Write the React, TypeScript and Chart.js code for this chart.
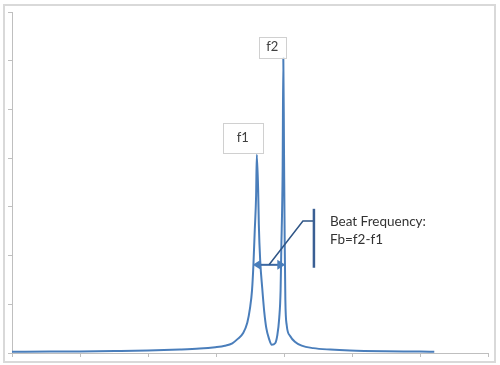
import React, { useEffect, useRef } from "react";
import { Chart, registerables } from "chart.js";

Chart.register(...registerables);

// Frequency (x) and amplitude (y)
const freqX = [0, 0.56, 1.0, 1.51, 2.0, 2.47, 2.76, 2.99, 3.13, 3.24, 3.32, 3.4, 3.46, 3.5, 3.53, 3.55, 3.57, 3.59, 3.6, 3.62, 3.63, 3.65, 3.68, 3.71, 3.74, 3.78, 3.82, 3.87, 3.9, 3.93, 3.95, 3.96, 3.98, 3.99, 4.0, 4.01, 4.02, 4.04, 4.09, 4.16, 4.26, 4.43, 4.68, 4.97, 5.49, 6.0, 6.21];
const amplitudeY = [0.025, 0.03, 0.033, 0.04, 0.05, 0.07, 0.09, 0.12, 0.15, 0.2, 0.29, 0.41, 0.62, 0.92, 1.29, 1.8, 2.52, 3.24, 4.07, 3.35, 2.63, 1.9, 1.33, 0.84, 0.51, 0.29, 0.17, 0.2, 0.35, 0.72, 1.29, 2.11, 3.76, 6.06, 4.17, 2.32, 1.09, 0.57, 0.35, 0.23, 0.15, 0.1, 0.07, 0.05, 0.035, 0.03, 0.025];

const axisMin = 0;
const axisMax = 7;
const peakLabels = ["f1", "f2"];
const beatLabel = ["Beat Frequency:", "Fb=f2-f1"];
const arrowY = 1.81;
const calloutX = 4.44;
const calloutTop = 2.96;
const calloutBottom = 1.75;
const calloutElbowY = 2.71;

const FONT = "Lato, 'Open Sans', sans-serif";

export default function App() {
  const ref = useRef<HTMLCanvasElement>(null);
  useEffect(() => {
    if (!ref.current) return;
    const points = freqX.map((x, i) => ({ x, y: amplitudeY[i] }));
    // find peaks
    const split = 3.8;
    let i1 = 0, i2 = 0;
    freqX.forEach((x, i) => {
      if (x < split && amplitudeY[i] > amplitudeY[i1]) i1 = i;
      if (x >= split && amplitudeY[i] > amplitudeY[i2]) i2 = i;
    });
    if (freqX[i2] < split) {
      i2 = freqX.findIndex((x) => x >= split);
      freqX.forEach((x, i) => { if (x >= split && amplitudeY[i] > amplitudeY[i2]) i2 = i; });
    }

    const overlay = {
      id: "overlay",
      afterDraw(chart: any) {
        const ctx = chart.ctx as CanvasRenderingContext2D;
        const xs = chart.scales.x;
        const ys = chart.scales.y;
        ctx.save();
        // outer frame
        ctx.strokeStyle = "#d9d9d9";
        ctx.lineWidth = 2;
        ctx.strokeRect(4, 5, 491, 357);

        // peak label boxes
        const drawBox = (cx: number, bottom: number, w: number, h: number, text: string) => {
          ctx.fillStyle = "#ffffff";
          ctx.fillRect(cx - w / 2, bottom - h, w, h);
          ctx.strokeStyle = "#d0d0d0";
          ctx.lineWidth = 1;
          ctx.strokeRect(Math.round(cx - w / 2) + 0.5, Math.round(bottom - h) + 0.5, w, h);
          ctx.fillStyle = "#404040";
          ctx.font = `13px ${FONT}`;
          ctx.textAlign = "center";
          ctx.textBaseline = "middle";
          ctx.fillText(text, cx, bottom - h / 2);
        };
        const p1x = xs.getPixelForValue(freqX[i1]);
        const p1y = ys.getPixelForValue(amplitudeY[i1]);
        const p2x = xs.getPixelForValue(freqX[i2]);
        const p2y = ys.getPixelForValue(amplitudeY[i2]);
        drawBox(p1x - 14, p1y - 2, 40, 30, peakLabels[0]);
        drawBox(p2x - 11, p2y, 27, 21, peakLabels[1]);

        // double arrow
        const ay = ys.getPixelForValue(arrowY);
        const ax1 = p1x - 4;
        const ax2 = p2x + 2;
        ctx.strokeStyle = "#3b68a3";
        ctx.lineWidth = 2;
        ctx.beginPath();
        ctx.moveTo(ax1 + 6, ay);
        ctx.lineTo(ax2 - 6, ay);
        ctx.stroke();
        ctx.fillStyle = "#4a7ebb";
        ctx.beginPath();
        ctx.moveTo(ax1, ay);
        ctx.lineTo(ax1 + 8, ay - 5);
        ctx.lineTo(ax1 + 8, ay + 5);
        ctx.closePath();
        ctx.fill();
        ctx.beginPath();
        ctx.moveTo(ax2, ay);
        ctx.lineTo(ax2 - 8, ay - 5);
        ctx.lineTo(ax2 - 8, ay + 5);
        ctx.closePath();
        ctx.fill();

        // callout connector
        const cx = xs.getPixelForValue(calloutX);
        const ey = ys.getPixelForValue(calloutElbowY);
        ctx.strokeStyle = "#2f5586";
        ctx.lineWidth = 1.5;
        ctx.beginPath();
        ctx.moveTo((ax1 + ax2) / 2, ay);
        ctx.lineTo(cx - 11, ey);
        ctx.lineTo(cx, ey);
        ctx.stroke();
        ctx.lineWidth = 2.5;
        ctx.strokeStyle = "#3a5f94";
        ctx.beginPath();
        ctx.moveTo(cx, ys.getPixelForValue(calloutTop));
        ctx.lineTo(cx, ys.getPixelForValue(calloutBottom));
        ctx.stroke();

        // callout text
        ctx.fillStyle = "#333333";
        ctx.font = `13.5px ${FONT}`;
        ctx.textAlign = "left";
        ctx.textBaseline = "middle";
        ctx.fillText(beatLabel[0], cx + 16, ey + 1);
        ctx.fillText(beatLabel[1], cx + 16, ey + 19);
        ctx.restore();
      },
    };

    const chart = new Chart(ref.current, {
      type: "scatter",
      data: {
        datasets: [
          {
            data: points,
            showLine: true,
            borderColor: "#4a7ebb",
            borderWidth: 2,
            pointRadius: 0,
            cubicInterpolationMode: "monotone",
          } as any,
        ],
      },
      options: {
        responsive: false,
        animation: false,
        events: [],
        layout: { padding: { left: 8, right: 12, top: 12, bottom: 8 } },
        plugins: { legend: { display: false }, tooltip: { enabled: false } },
        scales: {
          x: {
            type: "linear",
            min: axisMin,
            max: axisMax,
            ticks: { display: false, stepSize: 1 },
            grid: { drawOnChartArea: false, drawTicks: true, tickLength: 4, color: "#bfbfbf" },
            border: { display: true, color: "#bfbfbf", width: 1 },
          },
          y: {
            type: "linear",
            min: axisMin,
            max: axisMax,
            ticks: { display: false, stepSize: 1 },
            grid: { drawOnChartArea: false, drawTicks: true, tickLength: 4, color: "#bfbfbf" },
            border: { display: true, color: "#bfbfbf", width: 1 },
          },
        },
      },
      plugins: [overlay],
    });
    return () => chart.destroy();
  }, []);
  return (
    <div style={{ position: "absolute", left: 0, top: 0, width: 500, height: 365, background: "#fff" }}>
      <canvas ref={ref} width={500} height={365} style={{ width: 500, height: 365, display: "block" }} />
    </div>
  );
}
